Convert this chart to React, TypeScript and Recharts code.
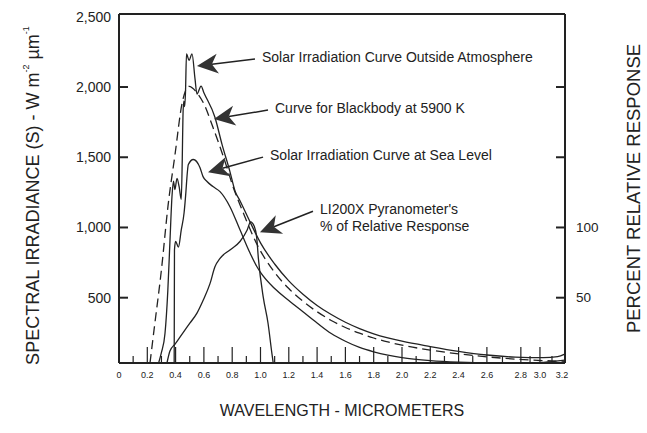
import React from "react";
import { LineChart, Line, XAxis, YAxis, ReferenceLine, Label } from "recharts";

const FONT = "'Liberation Sans', Arial, Helvetica, sans-serif";
const INK = "#222";

// Solar irradiation outside the atmosphere (µm / W m-2 µm-1)
const outsideWl = [
  0.28, 0.3, 0.325, 0.345, 0.36, 0.375, 0.385, 0.395, 0.41, 0.425, 0.44, 0.447, 0.452,
  0.458, 0.464, 0.47, 0.477, 0.495, 0.516, 0.537, 0.551, 0.58, 0.6, 0.678, 0.728, 0.784,
  0.82, 0.855, 0.926, 1.0, 1.1, 1.2, 1.3, 1.4, 1.5, 1.6, 1.7, 1.8, 1.9, 2.0,
  2.2, 2.4, 2.6, 2.8, 3.0, 3.1, 3.15,
];
const outsideIrr = [
  35, 110, 245, 550, 900, 1230, 1330, 1270, 1350, 1290, 1200, 1480, 1790,
  1900, 1860, 1965, 2236, 2190, 2236, 2060, 1950, 2007, 1960, 1785, 1592, 1398,
  1260, 1190, 1040, 890, 740, 620, 525, 445, 380, 325, 280, 243, 214, 190,
  152, 118, 92, 77, 73, 80, 98,
];

// Blackbody at 5900 K (dashed)
const blackbodyWl = [
  0.219, 0.25, 0.3, 0.346, 0.396, 0.445, 0.495, 0.55, 0.6, 0.664, 0.749, 0.806, 0.876,
  0.975, 1.1, 1.2, 1.3, 1.4, 1.5, 1.6, 1.7, 1.8, 1.9, 2.0, 2.2, 2.4, 2.6, 2.8, 3.0, 3.15,
];
const blackbodyIrr = [
  35, 290, 700, 1150, 1520, 1880, 2005, 1960, 1880, 1713, 1470, 1290, 1110,
  880, 680, 565, 475, 400, 338, 288, 247, 213, 185, 162, 127, 100, 79, 63, 52, 47,
];

// Solar irradiation at sea level
const seaLevelWl = [
  0.39, 0.392, 0.4, 0.42, 0.44, 0.46, 0.473, 0.48, 0.49, 0.525, 0.572, 0.594, 0.622,
  0.664, 0.714, 0.784, 0.855, 0.926, 0.975, 1.0, 1.1, 1.2, 1.3, 1.4, 1.5, 1.6,
  1.7, 1.8, 1.9, 2.0, 2.2, 2.4, 2.6, 2.8, 3.0, 3.15,
];
const seaLevelIrr = [
  35, 840, 900, 860, 983, 1105, 1255, 1355, 1448, 1484, 1427, 1362, 1327,
  1291, 1255, 1148, 983, 818, 720, 680, 565, 480, 400, 320, 245, 190,
  146, 115, 91, 73, 52, 41, 36, 36, 40, 55,
];

// LI200X pyranometer relative response (%)
const pyranoWl = [
  0.339, 0.36, 0.396, 0.452, 0.502, 0.551, 0.594, 0.643, 0.678, 0.714, 0.784, 0.855,
  0.905, 0.93, 0.955, 0.973, 0.985, 1.02, 1.053, 1.081, 1.09,
];
const pyranoPct = [
  3.5, 12, 17, 25, 32, 39, 48, 60, 72, 78, 84, 90,
  98, 104, 101, 93, 78, 50, 32, 10, 3.5,
];

const xTickValues = [
  0, 0.1, 0.2, 0.3, 0.4, 0.5, 0.6, 0.7, 0.8, 0.9, 1.0, 1.1, 1.2, 1.3, 1.4, 1.5, 1.6,
  1.7, 1.8, 1.9, 2.0, 2.1, 2.2, 2.3, 2.4, 2.5, 2.6, 2.71, 2.84, 2.905, 2.975, 3.06, 3.13,
];
const xTickLabels = [
  "0", "", "0.2", "", "0.4", "", "0.6", "", "0.8", "", "1.0", "", "1.2", "", "1.4", "", "1.6",
  "", "1.8", "", "2.0", "", "2.2", "", "2.4", "", "2.6", "", "2.8", "", "3.0", "", "3.2",
];
const leftTicks = [500, 1000, 1500, 2000, 2500];
const rightTicks = [50, 100, 150, 200];
const rightTickLabels = ["50", "100", "", ""];

const callouts = [
  { lines: ["Solar Irradiation Curve Outside Atmosphere"], from: [0.961, 2199], to: [0.551, 2149] },
  { lines: ["Curve for Blackbody at 5900 K"], from: [1.053, 1836], to: [0.671, 1772] },
  { lines: ["Solar Irradiation Curve at Sea Level"], from: [1.018, 1501], to: [0.629, 1394] },
  { lines: ["LI200X Pyranometer's", "% of Relative Response"], from: [1.371, 1116], to: [0.996, 966] },
];

const zip = (xs: number[], ys: number[]) => xs.map((x, i) => ({ x, y: ys[i] }));
const outsideData = zip(outsideWl, outsideIrr);
const blackbodyData = zip(blackbodyWl, blackbodyIrr);
const seaLevelData = zip(seaLevelWl, seaLevelIrr);
const pyranoData = zip(pyranoWl, pyranoPct);

function XTick(props: any) {
  const { x, y, payload } = props;
  const i = xTickValues.findIndex((v) => Math.abs(v - payload.value) < 1e-6);
  const label = xTickLabels[i] ?? "";
  const len = label ? 16 : 7;
  const showMark = payload.value > 0 && payload.value < 3.1;
  return (
    <g>
      {showMark && <line x1={x} x2={x} y1={y} y2={y - len} stroke={INK} strokeWidth={1.2} />}
      <text x={x} y={y + 12} textAnchor="middle" dominantBaseline="central" fontSize={9} fill={INK} fontFamily={FONT}>
        {label}
      </text>
    </g>
  );
}

function LeftTick(props: any) {
  const { x, y, payload } = props;
  const isTop = payload.value >= 2500;
  return (
    <g>
      {!isTop && <line x1={x} x2={x + 9} y1={y} y2={y} stroke={INK} strokeWidth={2} />}
      <text x={x - 8} y={y} textAnchor="end" dominantBaseline="central" fontSize={14} fill={INK} fontFamily={FONT}>
        {payload.value.toLocaleString("en-US")}
      </text>
    </g>
  );
}

function RightTick(props: any) {
  const { x, y, payload } = props;
  const i = rightTicks.indexOf(payload.value);
  return (
    <g>
      <line x1={x} x2={x - 9} y1={y} y2={y} stroke={INK} strokeWidth={2} />
      <text x={x + 11} y={y} textAnchor="start" dominantBaseline="central" fontSize={13.5} fill={INK} fontFamily={FONT}>
        {rightTickLabels[i]}
      </text>
    </g>
  );
}

function Callout(props: any) {
  const { x1, y1, x2, y2, lines } = props;
  const dx = x2 - x1;
  const dy = y2 - y1;
  const d = Math.hypot(dx, dy) || 1;
  const ux = dx / d;
  const uy = dy / d;
  const L = 21, W = 10, N = 15;
  const bx = x2 - ux * L, by = y2 - uy * L;
  const nx = x2 - ux * N, ny = y2 - uy * N;
  const pts = `${x2},${y2} ${bx - uy * W},${by + ux * W} ${nx},${ny} ${bx + uy * W},${by - ux * W}`;
  return (
    <g>
      <line x1={x1} y1={y1} x2={nx} y2={ny} stroke={INK} strokeWidth={1.5} />
      <polygon points={pts} fill="#333" />
      <text x={x1 + 7} y={y1 - 2} fontSize={14} fill={INK} fontFamily={FONT} dominantBaseline="central">
        {lines.map((t: string, i: number) => (
          <tspan key={i} x={x1 + 7} dy={i === 0 ? 0 : 17}>
            {t}
          </tspan>
        ))}
      </text>
    </g>
  );
}

const yTitle = (props: any) => {
  const vb = props.viewBox ?? { x: 0, y: 14, width: 119, height: 349 };
  const cx = vb.x + 33;
  const cy = vb.y + vb.height / 2 + 7;
  return (
    <text transform={`translate(${cx},${cy}) rotate(-90)`} textAnchor="middle" dominantBaseline="central" fontSize={18} fill={INK} fontFamily={FONT}>
      SPECTRAL IRRADIANCE (S) - W m<tspan dy={-7} fontSize={9}>-2</tspan>
      <tspan dy={7}> µm</tspan>
      <tspan dy={-7} fontSize={9}>-1</tspan>
    </text>
  );
};

const rightTitle = (props: any) => {
  const vb = props.viewBox ?? { x: 565, y: 14, width: 82, height: 349 };
  const cx = vb.x + 68;
  const cy = vb.y + vb.height / 2;
  return (
    <text transform={`translate(${cx},${cy}) rotate(-90)`} textAnchor="middle" dominantBaseline="central" fontSize={18.5} fill={INK} fontFamily={FONT}>
      PERCENT RELATIVE RESPONSE
    </text>
  );
};

const xTitle = (props: any) => {
  const vb = props.viewBox ?? { x: 119, y: 363, width: 446, height: 70 };
  return (
    <text x={vb.x + vb.width / 2} y={vb.y + 47} textAnchor="middle" dominantBaseline="central" fontSize={16} fill={INK} fontFamily={FONT}>
      WAVELENGTH - MICROMETERS
    </text>
  );
};

export default function App() {
  return (
    <div style={{ position: "absolute", left: 0, top: 0, background: "#fff" }}>
      <LineChart width={647} height={433} margin={{ top: 14, right: 0, bottom: 0, left: 0 }}>
        <XAxis
          dataKey="x"
          type="number"
          domain={[0, 3.152]}
          ticks={xTickValues}
          interval={0}
          height={70}
          tickSize={0}
          tickMargin={0}
          tickLine={false}
          tick={<XTick />}
          axisLine={{ stroke: INK, strokeWidth: 2 }}
          allowDataOverflow
        >
          <Label content={xTitle} />
        </XAxis>
        <YAxis
          yAxisId="left"
          type="number"
          domain={[35, 2520]}
          ticks={leftTicks}
          interval={0}
          width={119}
          tickSize={0}
          tickMargin={0}
          tickLine={false}
          tick={<LeftTick />}
          axisLine={{ stroke: INK, strokeWidth: 2 }}
          allowDataOverflow
        >
          <Label content={yTitle} />
        </YAxis>
        <YAxis
          yAxisId="right"
          orientation="right"
          type="number"
          domain={[3.5, 252]}
          ticks={rightTicks}
          interval={0}
          width={82}
          tickSize={0}
          tickMargin={0}
          tickLine={false}
          tick={<RightTick />}
          axisLine={{ stroke: INK, strokeWidth: 2 }}
          allowDataOverflow
        >
          <Label content={rightTitle} />
        </YAxis>
        <ReferenceLine yAxisId="left" y={2520} stroke={INK} strokeWidth={2} ifOverflow="visible" />
        <Line yAxisId="left" data={blackbodyData} dataKey="y" type="monotone" stroke={INK} strokeWidth={1.3} strokeDasharray="9 5" dot={false} isAnimationActive={false} />
        <Line yAxisId="left" data={outsideData} dataKey="y" type="monotone" stroke={INK} strokeWidth={1.3} dot={false} isAnimationActive={false} />
        <Line yAxisId="left" data={seaLevelData} dataKey="y" type="monotone" stroke={INK} strokeWidth={1.3} dot={false} isAnimationActive={false} />
        <Line yAxisId="right" data={pyranoData} dataKey="y" type="monotone" stroke={INK} strokeWidth={1.3} dot={false} isAnimationActive={false} />
        {callouts.map((c, i) => (
          <ReferenceLine
            key={i}
            yAxisId="left"
            ifOverflow="visible"
            segment={[
              { x: c.from[0], y: c.from[1] },
              { x: c.to[0], y: c.to[1] },
            ]}
            shape={(p: any) => <Callout {...p} lines={c.lines} />}
          />
        ))}
      </LineChart>
    </div>
  );
}
